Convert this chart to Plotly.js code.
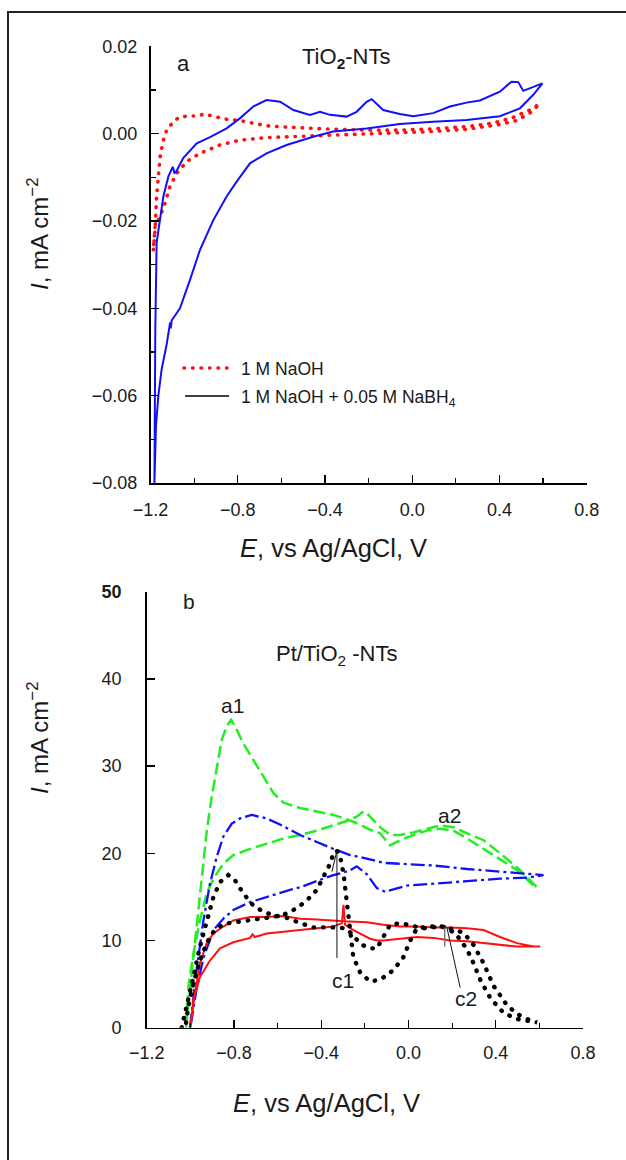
<!DOCTYPE html>
<html>
<head>
<meta charset="utf-8">
<script src="https://cdn.plot.ly/plotly-3.0.1.min.js"></script>
<style>
  html, body { margin: 0; padding: 0; background: #fff; overflow: hidden; }
  #chart { position: absolute; left: 0; top: 0; width: 626px; height: 1160px; }
  #frame { position: absolute; left: 7px; top: 11px; width: 700px; height: 1200px;
           border-left: 2px solid #222; border-top: 2px solid #222; pointer-events: none; }
</style>
</head>
<body>
<div id="chart"></div>
<div id="frame"></div>
<script>
// ---------- Panel a: TiO2-NTs ----------
const aNaohE = [-1.187, -1.179, -1.172, -1.164, -1.156, -1.141, -1.126, -1.111, -1.095, -1.072, -1.034, -0.973, -0.958, -0.912, -0.851, -0.790, -0.729, -0.668, -0.576, -0.454, -0.362, -0.209, -0.057, 0.096, 0.249, 0.371, 0.463, 0.539, 0.585,
  0.539, 0.478, 0.402, 0.249, 0.096, -0.057, -0.209, -0.362, -0.515, -0.668, -0.790, -0.882, -0.973, -1.034, -1.080, -1.111, -1.134, -1.156, -1.179, -1.187];
const aNaohI = [-0.0266, -0.0220, -0.0144, -0.0098, -0.0053, -0.0015, 0.0008, 0.0018, 0.0027, 0.0037, 0.0040, 0.0041, 0.0045, 0.0039, 0.0033, 0.0030, 0.0024, 0.0018, 0.0015, 0.0011, 0.0010, 0.0008, 0.0008, 0.0011, 0.0016, 0.0024, 0.0037, 0.0054, 0.0068,
  0.0047, 0.0030, 0.0021, 0.0010, 0.0005, 0.0002, -0.0001, -0.0003, -0.0007, -0.0009, -0.0015, -0.0026, -0.0045, -0.0064, -0.0091, -0.0121, -0.0160, -0.0190, -0.0213, -0.0266];

const aBhE = [-1.182, -1.180, -1.178, -1.172, -1.156, -1.141, -1.118, -1.098, -1.090, -1.083, -1.050, -0.988, -0.927, -0.851, -0.790, -0.729, -0.668, -0.606, -0.545, -0.469, -0.423, -0.377, -0.301, -0.255, -0.209, -0.186, -0.133, -0.057, 0.005, 0.096, 0.173, 0.249, 0.310, 0.402, 0.455, 0.486, 0.509, 0.555, 0.597,
  0.555, 0.494, 0.402, 0.249, 0.096, -0.057, -0.209, -0.362, -0.454, -0.576, -0.668, -0.744, -0.805, -0.851, -0.912, -0.973, -1.019, -1.065, -1.103, -1.107, -1.110, -1.125, -1.149, -1.164, -1.175, -1.179, -1.182];
const aBhI = [-0.080, -0.060, -0.045, -0.025, -0.019, -0.0144, -0.0098, -0.0076, -0.0090, -0.0088, -0.0056, -0.0022, -0.0008, 0.0012, 0.0035, 0.0062, 0.0077, 0.0073, 0.0054, 0.0043, 0.0050, 0.0043, 0.0039, 0.0050, 0.0073, 0.0079, 0.0054, 0.0045, 0.0040, 0.0047, 0.0062, 0.0071, 0.0076, 0.0096, 0.0119, 0.0118, 0.0098, 0.0106, 0.0115,
  0.0089, 0.0058, 0.0040, 0.0031, 0.0027, 0.0022, 0.0012, 0.0005, -0.0007, -0.0026, -0.0045, -0.0068, -0.0110, -0.0144, -0.0198, -0.0266, -0.0335, -0.0400, -0.0428, -0.0446, -0.0432, -0.048, -0.054, -0.060, -0.067, -0.072, -0.080];

// ---------- Panel b: Pt/TiO2-NTs ----------
const bGreenE = [-1.020, -0.970, -0.925, -0.902, -0.879, -0.856, -0.833, -0.813, -0.790, -0.757, -0.711, -0.665, -0.619, -0.573, -0.497, -0.420, -0.344, -0.283, -0.222, -0.176, -0.130, -0.084, -0.038, 0.023, 0.084, 0.145, 0.206, 0.268, 0.344, 0.420, 0.497, 0.573, 0.589,
  0.558, 0.497, 0.420, 0.344, 0.268, 0.206, 0.145, 0.084, 0.023, -0.038, -0.084, -0.130, -0.176, -0.191, -0.206, -0.237, -0.283, -0.344, -0.420, -0.497, -0.573, -0.650, -0.726, -0.803, -0.849, -0.894, -0.925, -0.956, -0.986, -1.009, -1.020];
const bGreenI = [0, 11.5, 22.5, 26.5, 30.0, 33.0, 34.6, 35.3, 34.3, 32.6, 30.7, 28.8, 26.9, 25.8, 25.2, 24.8, 24.4, 23.9, 23.3, 22.7, 22.3, 20.9, 21.5, 22.1, 22.6, 22.8, 22.6, 21.7, 20.5, 19.4, 18.1, 16.3, 16.1,
  16.9, 18.4, 20.0, 21.5, 22.3, 23.0, 23.2, 22.8, 22.4, 22.1, 22.1, 23.0, 24.3, 24.6, 24.8, 24.2, 23.7, 23.2, 22.6, 22.1, 21.7, 21.1, 20.5, 19.8, 18.8, 17.1, 15.4, 12.3, 8.5, 4.7, 0];

const bBlueE = [-1.002, -0.971, -0.940, -0.910, -0.879, -0.849, -0.810, -0.772, -0.719, -0.650, -0.589, -0.543, -0.497, -0.420, -0.344, -0.268, -0.191, -0.115, -0.038, 0.115, 0.268, 0.420, 0.497, 0.619,
  0.543, 0.420, 0.268, 0.115, -0.007, -0.107, -0.145, -0.191, -0.237, -0.270, -0.344, -0.390, -0.497, -0.543, -0.650, -0.726, -0.803, -0.849, -0.894, -0.940, -0.971, -1.000];
const bBlueI = [0, 6.6, 12.3, 16.5, 19.6, 21.9, 23.4, 24.0, 24.4, 24.0, 23.3, 22.7, 22.1, 21.3, 20.5, 19.8, 19.4, 18.9, 18.8, 18.6, 18.2, 17.9, 17.7, 17.5,
  17.2, 17.1, 16.8, 16.5, 16.3, 15.6, 16.0, 17.6, 18.5, 18.0, 17.5, 17.1, 16.1, 15.8, 15.0, 14.4, 13.5, 12.5, 11.2, 8.0, 4.5, 0];

const bBlackE = [-1.040, -1.009, -0.986, -0.956, -0.925, -0.894, -0.864, -0.826, -0.795, -0.757, -0.711, -0.665, -0.619, -0.558, -0.497, -0.436, -0.375, -0.313, -0.283, -0.253, -0.221, -0.176, -0.145, -0.115, -0.084, -0.038, 0.068, 0.145, 0.176, 0.222, 0.268, 0.298, 0.329, 0.375, 0.436, 0.497, 0.589,
  0.543, 0.497, 0.451, 0.390, 0.344, 0.298, 0.252, 0.161, 0.100, 0.039, 0.008, -0.023, -0.069, -0.130, -0.176, -0.221, -0.253, -0.267, -0.283, -0.298, -0.313, -0.329, -0.344, -0.359, -0.390, -0.420, -0.466, -0.512, -0.558, -0.619, -0.680, -0.742, -0.803, -0.849, -0.894, -0.925, -0.956, -0.986, -1.009, -1.020];
const bBlackI = [0, 3.2, 5.8, 9.3, 12.3, 15.0, 16.7, 17.5, 16.9, 15.4, 14.0, 13.3, 12.9, 12.6, 12.0, 11.5, 11.5, 11.5, 11.3, 10.6, 9.6, 9.1, 9.1, 10.5, 11.8, 12.0, 11.4, 11.6, 11.5, 10.6, 9.0, 7.4, 5.5, 3.4, 1.7, 1.0, 0.6,
  1.0, 1.6, 2.6, 4.8, 7.4, 9.5, 10.9, 11.6, 11.6, 11.4, 10.0, 8.1, 6.6, 5.5, 5.3, 6.3, 8.1, 11.2, 15.0, 17.7, 19.6, 20.3, 20.0, 18.8, 17.3, 15.8, 14.6, 13.7, 13.1, 12.7, 12.5, 12.3, 12.1, 11.9, 11.0, 9.7, 7.7, 5.1, 2.4, 0.5];

const bRedE = [-1.000, -0.986, -0.956, -0.910, -0.864, -0.803, -0.726, -0.715, -0.705, -0.650, -0.573, -0.497, -0.420, -0.344, -0.305, -0.298, -0.291, -0.260, -0.222, -0.176, -0.145, -0.115, -0.038, 0.038, 0.115, 0.191, 0.268, 0.344, 0.420, 0.497, 0.604,
  0.573, 0.497, 0.420, 0.344, 0.268, 0.191, 0.115, 0.038, -0.038, -0.115, -0.191, -0.298, -0.344, -0.420, -0.497, -0.573, -0.650, -0.726, -0.803, -0.849, -0.894, -0.925, -0.956, -0.979, -1.000];
const bRedI = [0, 3.2, 5.8, 7.7, 9.1, 9.8, 10.3, 10.7, 10.4, 10.8, 11.0, 11.2, 11.4, 11.6, 12.0, 14.1, 11.8, 11.3, 10.8, 10.2, 10.0, 10.0, 10.2, 10.4, 10.3, 10.0, 9.9, 9.7, 9.5, 9.3, 9.3,
  9.3, 9.7, 10.4, 11.2, 11.4, 11.5, 11.5, 11.6, 11.6, 11.8, 12.1, 12.2, 12.3, 12.4, 12.5, 12.8, 12.7, 12.7, 12.3, 11.6, 10.8, 9.7, 7.4, 3.9, 0];

// tick labels
const xTickVals = [-1.2, -0.8, -0.4, 0.0, 0.4, 0.8];
const xTickText = ['\u22121.2', '\u22120.8', '\u22120.4', '0.0', '0.4', '0.8'];
const aYTickVals = [-0.08, -0.06, -0.04, -0.02, 0.00, 0.02];
const aYTickText = ['\u22120.08', '\u22120.06', '\u22120.04', '\u22120.02', '0.00', '0.02'];
const bYTickVals = [0, 10, 20, 30, 40, 50];
const bYTickText = ['0', '10', '20', '30', '40', '<b>50</b>'];

const legendNames = ['1 M NaOH', '1 M NaOH + 0.05 M NaBH<sub>4</sub>'];

// ---------- layout helpers ----------
const W = 626, H = 1160;
const px = v => v / W;
const py = v => 1 - v / H;
const FONT = 'Liberation Sans, Arial, Helvetica, sans-serif';
const TXT = '#1a1a1a';
const RED_DOTS = {color: '#ff1010', width: 3.6, dash: '0.5px,8px'};
const BLACK_DOTS = {color: '#000000', width: 4.4, dash: '0.5px,9px'};

const traces = [
  {x: aNaohE, y: aNaohI, xaxis: 'x', yaxis: 'y', mode: 'lines', name: legendNames[0],
   line: RED_DOTS, showlegend: false},
  {x: aBhE, y: aBhI, xaxis: 'x', yaxis: 'y', mode: 'lines', name: legendNames[1],
   line: {color: '#1010ff', width: 2}, showlegend: false},
  {x: bGreenE, y: bGreenI, xaxis: 'x2', yaxis: 'y2', mode: 'lines',
   line: {color: '#22ee22', width: 2.5, dash: '12px,5px'}, showlegend: false},
  {x: bBlueE, y: bBlueI, xaxis: 'x2', yaxis: 'y2', mode: 'lines',
   line: {color: '#1010ff', width: 2.3, dash: '14px,4px,3px,4px'}, showlegend: false},
  {x: bRedE, y: bRedI, xaxis: 'x2', yaxis: 'y2', mode: 'lines',
   line: {color: '#ff1010', width: 2}, showlegend: false},
  {x: bBlackE, y: bBlackI, xaxis: 'x2', yaxis: 'y2', mode: 'lines',
   line: BLACK_DOTS, showlegend: false}
];
const ROUND_CAP_TRACES = [0, 5];

function xAxis(domain, anchor, standoff) {
  return {
    domain: domain, anchor: anchor, range: [-1.2, 0.8],
    tickmode: 'array', tickvals: xTickVals, ticktext: xTickText,
    ticks: 'inside', ticklen: 8, tickwidth: 1.3, tickcolor: '#000',
    minor: {ticks: 'inside', ticklen: 5, tickwidth: 1.2, tickcolor: '#000', dtick: 0.2, tick0: 0},
    showline: true, linecolor: '#000', linewidth: 1.6,
    showgrid: false, zeroline: false,
    tickfont: {family: FONT, size: 18, color: TXT},
    ticklabelstandoff: standoff
  };
}

function note(x, y, text, size, extra) {
  return Object.assign({xref: 'paper', yref: 'paper', x: px(x), y: py(y), text: text, showarrow: false,
    xanchor: 'center', yanchor: 'middle', font: {family: FONT, size: size, color: TXT}}, extra || {});
}
function dataNote(x, y, text, size) {
  return {xref: 'x2', yref: 'y2', x: x, y: y, text: text, showarrow: false,
    xanchor: 'center', yanchor: 'middle', font: {family: FONT, size: size, color: TXT}};
}

const layout = {
  width: W, height: H,
  margin: {l: 0, r: 0, t: 0, b: 0},
  paper_bgcolor: '#fff', plot_bgcolor: 'rgba(0,0,0,0)',
  showlegend: false,
  xaxis: xAxis([px(150.5), px(586.7)], 'y', 10),
  yaxis: {
    domain: [py(483), py(46.3)], anchor: 'x', range: [-0.08, 0.02],
    tickmode: 'array', tickvals: aYTickVals, ticktext: aYTickText,
    ticks: 'inside', ticklen: 8, tickwidth: 1.3, tickcolor: '#000',
    minor: {ticks: 'inside', ticklen: 5, tickwidth: 1.2, tickcolor: '#000', dtick: 0.01, tick0: 0},
    showline: true, linecolor: '#000', linewidth: 1.6,
    showgrid: false, zeroline: false,
    tickfont: {family: FONT, size: 18, color: TXT},
    ticklabelstandoff: 8
  },
  xaxis2: xAxis([px(146.7), px(583)], 'y2', 8),
  yaxis2: {
    domain: [py(1027.7), py(591.7)], anchor: 'x2', range: [0, 50],
    tickmode: 'array', tickvals: bYTickVals, ticktext: bYTickText,
    ticks: 'inside', ticklen: 8, tickwidth: 1.3, tickcolor: '#000',
    showline: true, linecolor: '#000', linewidth: 1.6,
    showgrid: false, zeroline: false,
    tickfont: {family: FONT, size: 18, color: TXT},
    ticklabelstandoff: 20
  },
  shapes: [
    // legend samples (panel a)
    {type: 'line', xref: 'paper', yref: 'paper', x0: px(184), x1: px(229), y0: py(368), y1: py(368),
     line: RED_DOTS},
    {type: 'line', xref: 'paper', yref: 'paper', x0: px(185), x1: px(229), y0: py(396), y1: py(396),
     line: {color: '#000', width: 1.5}},
    // c1 pointer
    {type: 'line', xref: 'x2', yref: 'y2', x0: -0.328, y0: 8.0, x1: -0.328, y1: 20.3, line: {color: '#111', width: 1}},
    {type: 'line', xref: 'x2', yref: 'y2', x0: -0.351, y0: 17.9, x1: -0.328, y1: 20.3, line: {color: '#111', width: 1}},
    // c2 pointer
    {type: 'line', xref: 'x2', yref: 'y2', x0: 0.237, y0: 4.6, x1: 0.176, y1: 11.5, line: {color: '#111', width: 1}},
    {type: 'line', xref: 'x2', yref: 'y2', x0: 0.166, y0: 9.3, x1: 0.166, y1: 11.5, line: {color: '#777', width: 1.5}}
  ],
  annotations: [
    // panel a
    note(183, 63, 'a', 22),
    note(300, 58, 'TiO<sub><b>2</b></sub>-NTs', 22, {xanchor: 'left'}),
    note(239, 369, legendNames[0], 17.5, {xanchor: 'left'}),
    note(239, 398, legendNames[1], 17.5, {xanchor: 'left'}),
    note(38, 234, '<i>I</i>, mA cm<sup>\u22122</sup>', 24, {textangle: -90}),
    note(333, 548, '<i>E</i>, vs Ag/AgCl, V', 25.5),
    // panel b
    note(189, 601, 'b', 21),
    note(274, 655, 'Pt/TiO<sub>2</sub> -NTs', 22, {xanchor: 'left'}),
    dataNote(-0.809, 37.0, 'a1', 21),
    dataNote(0.187, 24.3, 'a2', 21),
    dataNote(-0.300, 5.4, 'c1', 21),
    dataNote(0.265, 3.3, 'c2', 21),
    note(38, 738, '<i>I</i>, mA cm<sup>\u22122</sup>', 24, {textangle: -90}),
    note(326, 1103, '<i>E</i>, vs Ag/AgCl, V', 25.5)
  ]
};

Plotly.newPlot('chart', traces, layout, {displayModeBar: false, staticPlot: true}).then(gd => {
  // round line caps so the dotted series are drawn as round dots
  const groups = gd.querySelectorAll('.scatterlayer .trace');
  ROUND_CAP_TRACES.forEach(i => {
    if (groups[i]) groups[i].querySelectorAll('path.js-line').forEach(p => p.style.strokeLinecap = 'round');
  });
  const shp = gd.querySelectorAll('.shapelayer path');
  if (shp[0]) shp[0].style.strokeLinecap = 'round';
});
</script>
</body>
</html>
